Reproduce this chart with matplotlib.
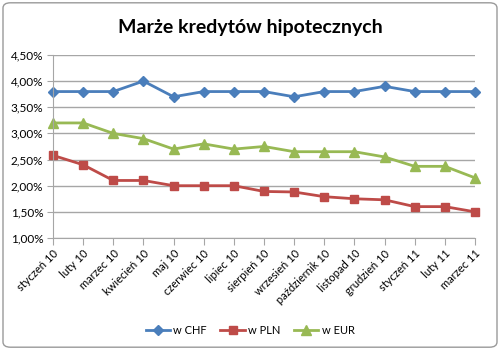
import matplotlib.pyplot as plt
from matplotlib.patches import FancyBboxPatch
from matplotlib.ticker import FuncFormatter

plt.rcParams['font.family'] = ['Lato', 'DejaVu Sans']

miesiace = ["styczeń 10", "luty 10", "marzec 10", "kwiecień 10", "maj 10",
            "czerwiec 10", "lipiec 10", "sierpień 10", "wrzesień 10",
            "październik 10", "listopad 10", "grudzień 10", "styczeń 11",
            "luty 11", "marzec 11"]
chf = [3.80, 3.80, 3.80, 4.00, 3.70, 3.80, 3.80, 3.80, 3.70, 3.80, 3.80, 3.90, 3.80, 3.80, 3.80]
pln = [2.58, 2.40, 2.10, 2.10, 2.00, 2.00, 2.00, 1.89, 1.88, 1.79, 1.75, 1.73, 1.60, 1.60, 1.50]
eur = [3.20, 3.20, 3.00, 2.90, 2.70, 2.80, 2.70, 2.75, 2.65, 2.65, 2.65, 2.55, 2.37, 2.37, 2.15]

fig = plt.figure(figsize=(5, 3.5), dpi=100, facecolor="white")

# ramka wokol wykresu
ramka = FancyBboxPatch((0.006, 0.008), 0.988, 0.984, boxstyle="round,pad=0,rounding_size=0.015",
                       transform=fig.transFigure, facecolor="none", edgecolor="#9a9a9a",
                       lw=1.0, zorder=-1)
fig.patches.append(ramka)

ax = fig.add_axes([0.106, 0.32, 0.844, 0.523])
ax.patch.set_alpha(0)
x = list(range(len(miesiace)))

ax.plot(x, chf, color="#4A7EBB", lw=2, marker="D", ms=5, label="w CHF", clip_on=False)
ax.plot(x, pln, color="#BE4B48", lw=2, marker="s", ms=6, label="w PLN", clip_on=False)
ax.plot(x, eur, color="#98B954", lw=2, marker="^", ms=6.5, label="w EUR", clip_on=False)

ax.set_xlim(0, len(miesiace) - 1)
ax.set_ylim(1.0, 4.5)
ax.set_yticks([1.0, 1.5, 2.0, 2.5, 3.0, 3.5, 4.0, 4.5])
ax.yaxis.set_major_formatter(FuncFormatter(lambda v, p: f"{v:.2f}%".replace(".", ",")))
ax.grid(axis="y", color="#a6a6a6", lw=1)
ax.set_axisbelow(True)

ax.set_xticks(x)
ax.set_xticklabels(miesiace, rotation=45, ha="right", rotation_mode="anchor", fontsize=8)
ax.tick_params(axis="x", length=5, color="#a6a6a6", direction="out", pad=2)
ax.tick_params(axis="y", length=4, color="#a6a6a6", labelsize=8.5, pad=3)

for s in ["top", "right"]:
    ax.spines[s].set_visible(False)
ax.spines["left"].set_color("#a6a6a6")
ax.spines["bottom"].set_color("#a6a6a6")

fig.text(0.5, 0.92, "Marże kredytów hipotecznych", ha="center", va="center",
         fontsize=14, fontweight="bold")

fig.legend(loc="center", bbox_to_anchor=(0.5, 0.057), ncol=3, frameon=False,
           fontsize=8, handlelength=2.2, handletextpad=0.3, columnspacing=1.2)

fig.savefig("out.png", dpi=100)
